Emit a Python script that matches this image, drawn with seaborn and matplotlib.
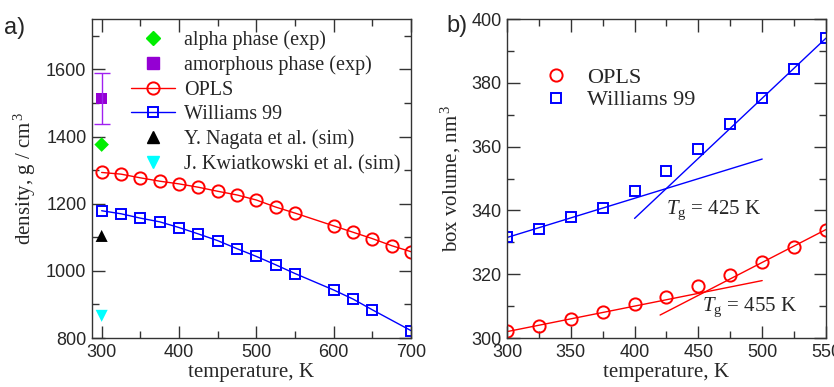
import matplotlib
matplotlib.use("Agg")
import matplotlib.pyplot as plt
from matplotlib.lines import Line2D
from matplotlib.ticker import MultipleLocator
import seaborn as sns

# panel a) density vs temperature
temp_opls = [300, 325, 350, 375, 400, 425, 450, 475, 500, 525, 550, 600, 625, 650, 675, 700]
dens_opls = [1293, 1288, 1277, 1267, 1259, 1249, 1237, 1226, 1211, 1190, 1172, 1134, 1115, 1096, 1075, 1057]
temp_w99 = [300, 325, 350, 375, 400, 425, 450, 475, 500, 525, 550, 600, 625, 650, 700]
dens_w99 = [1179, 1170, 1157, 1146, 1129, 1110, 1090, 1066, 1043, 1018, 992, 943, 916, 884, 822]
alpha_exp = (300, 1376)
amorph_exp = (300, 1513, 75)
nagata_sim = (300, 1104)
kwiat_sim = (300, 866)

# panel b) box volume vs temperature
temp_b = [300, 325, 350, 375, 400, 425, 450, 475, 500, 525, 550]
vol_opls = [302.2, 303.8, 306.0, 308.0, 310.6, 312.9, 316.3, 319.7, 323.7, 328.4, 333.9]
vol_w99 = [331.8, 334.2, 337.9, 340.8, 346.2, 352.4, 359.2, 367.0, 375.1, 384.2, 394.1]
# linear fits (end points)
fit_w99_low = ([300, 500], [331.5, 356.1])
fit_w99_high = ([400, 550], [337.5, 394.0])
fit_opls_low = ([300, 500], [302.0, 318.0])
fit_opls_high = ([420, 550], [307.2, 334.0])

sns.set_theme(style="ticks")
plt.rcParams['font.family'] = ['Liberation Sans', 'DejaVu Sans']
serif = ['Liberation Serif', 'DejaVu Serif']
plt.rcParams['mathtext.fontset'] = 'custom'
plt.rcParams['mathtext.rm'] = 'Liberation Serif'
plt.rcParams['mathtext.it'] = 'Liberation Serif:italic'

RED = '#ff0000'
BLUE = '#0000ff'

fig = plt.figure(figsize=(8.34, 3.87), dpi=100)
ax1 = fig.add_axes([0.1103, 0.1266, 0.3825, 0.8243])
ax2 = fig.add_axes([0.6079, 0.1266, 0.3825, 0.8243])

mk_c = dict(marker='o', markersize=8.8, markerfacecolor='none', markeredgewidth=1.4)
mk_s = dict(marker='s', markersize=7.8, markerfacecolor='none', markeredgewidth=1.4)

sns.lineplot(x=temp_opls, y=dens_opls, ax=ax1, color=RED, lw=1, markeredgecolor=RED, **mk_c)
sns.lineplot(x=temp_w99, y=dens_w99, ax=ax1, color=BLUE, lw=1, markeredgecolor=BLUE, **mk_s)
ax1.errorbar([amorph_exp[0]], [amorph_exp[1]], yerr=[amorph_exp[2]], fmt='none',
             ecolor='#a020f0', elinewidth=1, capsize=6)
sns.scatterplot(x=[amorph_exp[0]], y=[amorph_exp[1]], ax=ax1, marker='s', s=70, color='#9400d3', edgecolor='none')
sns.scatterplot(x=[alpha_exp[0]], y=[alpha_exp[1]], ax=ax1, marker='D', s=55, color='#00ee00', edgecolor='none')
sns.scatterplot(x=[nagata_sim[0]], y=[nagata_sim[1]], ax=ax1, marker='^', s=75, color='black', edgecolor='none')
sns.scatterplot(x=[kwiat_sim[0]], y=[kwiat_sim[1]], ax=ax1, marker='v', s=75, color='#00ffff', edgecolor='none')

ax1.set_xlim(287.5, 700)
ax1.set_ylim(800, 1750)
ax1.xaxis.set_major_locator(MultipleLocator(100))
ax1.xaxis.set_minor_locator(MultipleLocator(50))
ax1.yaxis.set_major_locator(MultipleLocator(200))
ax1.yaxis.set_minor_locator(MultipleLocator(100))
ax1.set_xlabel('temperature, K', family=serif, fontsize=15, labelpad=2)
ax1.set_ylabel(r'density, g / cm$^{\,3}$', family=serif, fontsize=15, labelpad=6)

handles1 = [
    Line2D([], [], ls='none', marker='D', markersize=7, color='#00ee00'),
    Line2D([], [], ls='none', marker='s', markersize=8, color='#9400d3'),
    Line2D([], [], color=RED, lw=1, markeredgecolor=RED, **mk_c),
    Line2D([], [], color=BLUE, lw=1, markeredgecolor=BLUE, **mk_s),
    Line2D([], [], ls='none', marker='^', markersize=8, color='black'),
    Line2D([], [], ls='none', marker='v', markersize=8, color='#00ffff'),
]
labels1 = ['alpha phase (exp)', 'amorphous phase (exp)', 'OPLS', 'Williams 99',
           'Y. Nagata et al. (sim)', 'J. Kwiatkowski et al. (sim)']
ax1.legend(handles1, labels1, loc='upper left', bbox_to_anchor=(0.097, 0.99), frameon=False,
           prop={'family': serif, 'size': 14.5}, handlelength=2.2, handletextpad=0.45,
           labelspacing=0.27, borderaxespad=0.0, borderpad=0.4)

# panel b
sns.lineplot(x=fit_w99_low[0], y=fit_w99_low[1], ax=ax2, color=BLUE, lw=1)
sns.lineplot(x=fit_w99_high[0], y=fit_w99_high[1], ax=ax2, color=BLUE, lw=1)
sns.lineplot(x=fit_opls_low[0], y=fit_opls_low[1], ax=ax2, color=RED, lw=1)
sns.lineplot(x=fit_opls_high[0], y=fit_opls_high[1], ax=ax2, color=RED, lw=1)
sns.lineplot(x=temp_b, y=vol_opls, ax=ax2, ls='none', color=RED, markeredgecolor=RED, **mk_c)
sns.lineplot(x=temp_b, y=vol_w99, ax=ax2, ls='none', color=BLUE, markeredgecolor=BLUE, **mk_s)

ax2.set_xlim(300, 550)
ax2.set_ylim(300, 400)
ax2.xaxis.set_major_locator(MultipleLocator(50))
ax2.xaxis.set_minor_locator(MultipleLocator(25))
ax2.yaxis.set_major_locator(MultipleLocator(20))
ax2.yaxis.set_minor_locator(MultipleLocator(10))
ax2.set_xlabel('temperature, K', family=serif, fontsize=15, labelpad=2)
ax2.set_ylabel(r'box volume, nm$^{\,3}$', family=serif, fontsize=15, labelpad=6)

ax2.text(425, 340, r'$T_{\rm g}$ = 425 K', family=serif, fontsize=15, va='center', ha='left')
ax2.text(453, 309.5, r'$T_{\rm g}$ = 455 K', family=serif, fontsize=15, va='center', ha='left')

handles2 = [
    Line2D([], [], ls='none', markeredgecolor=RED, **mk_c),
    Line2D([], [], ls='none', markeredgecolor=BLUE, **mk_s),
]
ax2.legend(handles2, ['OPLS', 'Williams 99'], loc='upper left', bbox_to_anchor=(0.091, 0.877),
           frameon=False, prop={'family': serif, 'size': 16}, handlelength=1.0,
           handletextpad=0.9, labelspacing=0.1, borderaxespad=0.0, borderpad=0.4)

for ax in (ax1, ax2):
    ax.tick_params(which='both', direction='in', top=True, right=True, labelsize=13,
                   color='#333333', width=1)
    ax.tick_params(which='major', length=9, pad=4)
    ax.tick_params(which='minor', length=5)
    for sp in ax.spines.values():
        sp.set_visible(True)
        sp.set_color('#333333')
        sp.set_linewidth(1)

fig.text(0.005, 0.955, 'a)', fontsize=17, va='top')
fig.text(0.535, 0.962, 'b)', fontsize=17, va='top')

fig.savefig('out.png', dpi=100)
